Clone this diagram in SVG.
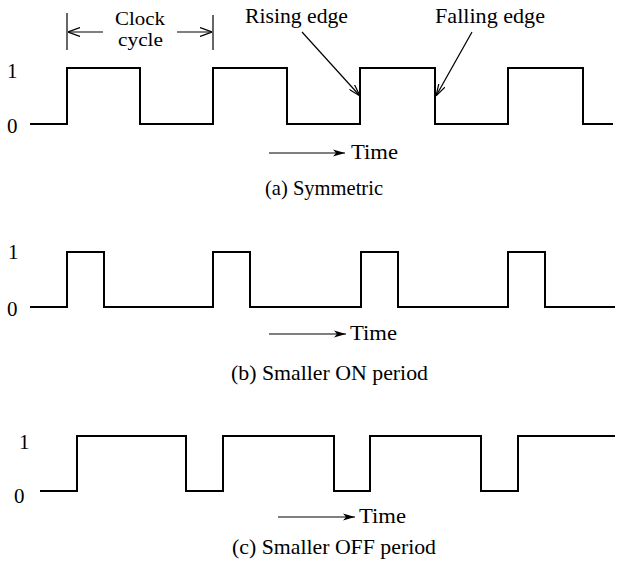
<svg xmlns="http://www.w3.org/2000/svg" width="617" height="572" viewBox="0 0 617 572">
<style>
  text { font-family: "Liberation Serif", "Times New Roman", serif; fill: #000; }
  .lbl { font-size: 21px; }
  .top { font-size: 18px; }
  .wave { fill: none; stroke: #000; stroke-width: 2; stroke-linejoin: miter; }
  .thin { fill: none; stroke: #000; stroke-width: 1.2; }
</style>
<defs>
  <marker id="tri" viewBox="0 0 12 8" refX="12" refY="4" markerWidth="12" markerHeight="8" markerUnits="userSpaceOnUse" orient="auto">
    <path d="M0,0.5 L12,4 L0,7.5 L3,4 Z" fill="#000"/>
  </marker>
  <marker id="chev" viewBox="0 0 12 10" refX="12" refY="5" markerWidth="12" markerHeight="10" markerUnits="userSpaceOnUse" orient="auto">
    <path d="M0,0.5 L12,5 L0,9.5" fill="none" stroke="#000" stroke-width="1.2"/>
  </marker>
  <marker id="edge" viewBox="0 0 12 8" refX="12" refY="4" markerWidth="12" markerHeight="8" markerUnits="userSpaceOnUse" orient="auto">
    <path d="M0,0.5 L12,4 L0,7.5" fill="none" stroke="#000" stroke-width="1.2"/>
  </marker>
</defs>

<g id="panel-a">
  <text class="lbl" x="7" y="78">1</text>
  <text class="lbl" x="7" y="133">0</text>
  <path id="wave-a" class="wave" d="M30,124 H67 V68 H140 V124 H213 V68 H287 V124 H360 V68 H435 V124 H508 V68 H583 V124 H613"/>
  <text class="lbl top" x="115" y="25" textLength="50" lengthAdjust="spacingAndGlyphs">Clock</text>
  <text class="lbl top" x="118" y="46" textLength="45" lengthAdjust="spacingAndGlyphs">cycle</text>
  <text class="lbl" x="245" y="23" textLength="103" lengthAdjust="spacingAndGlyphs">Rising edge</text>
  <text class="lbl" x="435" y="23" textLength="110" lengthAdjust="spacingAndGlyphs">Falling edge</text>
  <text class="lbl" x="351" y="159" textLength="47" lengthAdjust="spacingAndGlyphs">Time</text>
  <text class="lbl" x="265" y="195" textLength="118" lengthAdjust="spacingAndGlyphs">(a) Symmetric</text>
</g>

<g id="panel-b">
  <text class="lbl" x="8" y="259">1</text>
  <text class="lbl" x="7" y="316">0</text>
  <path id="wave-b" class="wave" d="M30,307 H67 V252 H104 V307 H213 V252 H250 V307 H361 V252 H398 V307 H508 V252 H545 V307 H615"/>
  <text class="lbl" x="350" y="340" textLength="47" lengthAdjust="spacingAndGlyphs">Time</text>
  <text class="lbl" x="231" y="380" textLength="197" lengthAdjust="spacingAndGlyphs">(b) Smaller ON period</text>
</g>

<g id="panel-c">
  <text class="lbl" x="19" y="449">1</text>
  <text class="lbl" x="14" y="503">0</text>
  <path id="wave-c" class="wave" d="M40,491 H77 V436 H186 V491 H223 V436 H334 V491 H370 V436 H481 V491 H518 V436 H615"/>
  <text class="lbl" x="359" y="523" textLength="47" lengthAdjust="spacingAndGlyphs">Time</text>
  <text class="lbl" x="232" y="554" textLength="204" lengthAdjust="spacingAndGlyphs">(c) Smaller OFF period</text>
</g>

<g id="connectors">
  <line class="thin" x1="67" y1="13" x2="67" y2="50"/>
  <line class="thin" x1="213" y1="15" x2="213" y2="50"/>
  <line class="thin" x1="103" y1="32" x2="68" y2="32" marker-end="url(#chev)"/>
  <line class="thin" x1="177" y1="32" x2="212" y2="32" marker-end="url(#chev)"/>
  <line class="thin" x1="302" y1="32" x2="360" y2="96" marker-end="url(#edge)"/>
  <line class="thin" x1="472" y1="32" x2="436" y2="96" marker-end="url(#edge)"/>
  <line class="thin" x1="269" y1="153" x2="345" y2="153" marker-end="url(#tri)"/>
  <line class="thin" x1="269" y1="334" x2="346" y2="334" marker-end="url(#tri)"/>
  <line class="thin" x1="278" y1="517" x2="355" y2="517" marker-end="url(#tri)"/>
</g>
</svg>
